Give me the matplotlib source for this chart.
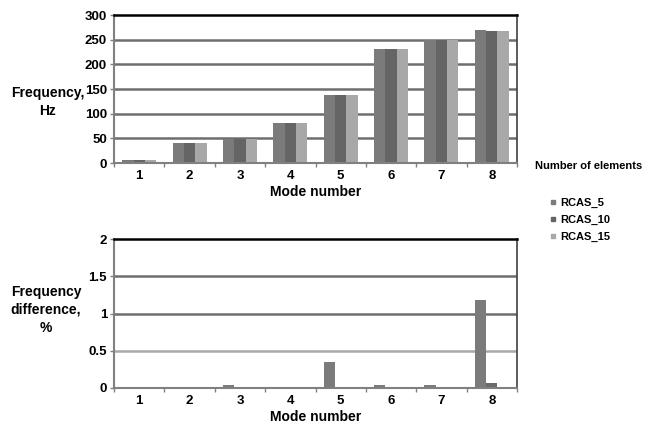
import numpy as np
import matplotlib.pyplot as plt
from matplotlib.lines import Line2D

plt.rcParams['font.family'] = ['Liberation Sans', 'DejaVu Sans']
plt.rcParams['font.weight'] = 'bold'

modes = ['1', '2', '3', '4', '5', '6', '7', '8']
series = ['RCAS_5', 'RCAS_10', 'RCAS_15']
colors = ['#7b7b7b', '#656565', '#a8a8a8']

# natural frequencies, Hz
freq_5 = [6.7, 40.5, 48.6, 82, 137.6, 232, 249.6, 270.5]
freq_10 = [6.7, 40.5, 48.6, 82, 137.6, 232, 249.6, 267.3]
freq_15 = [6.7, 40.5, 48.6, 82, 137.6, 232, 249.6, 267.3]

# difference relative to the finest model, %
diff_5 = [0, 0, 0.045, 0, 0.35, 0.045, 0.045, 1.18]
diff_10 = [0, 0, 0, 0, 0, 0, 0, 0.07]
diff_15 = [0, 0, 0, 0, 0, 0, 0, 0]

x = np.arange(len(modes))
w = 0.225

fig = plt.figure(figsize=(6.48, 4.25), dpi=100)
ax1 = fig.add_axes([114/648, 1 - 163/425, 403/648, 148/425])
ax2 = fig.add_axes([114/648, 1 - 388/425, 403/648, 149/425])


def style(ax, ymax, step, grid_colors):
    ax.set_xlim(-0.5, len(modes) - 0.5)
    ax.set_ylim(0, ymax)
    ticks = np.arange(0, ymax + step / 2, step)
    ax.set_yticks(ticks)
    ax.set_yticklabels([f'{t:g}' for t in ticks], fontsize=9.5, fontweight='bold')
    for t, c in zip(ticks[1:-1], grid_colors):
        ax.axhline(t, color=c, lw=1.8, zorder=0)
    ax.set_xticks(x)
    ax.set_xticklabels(modes, fontsize=9.5, fontweight='bold')
    ax.tick_params(axis='x', length=0, pad=5)
    ax.tick_params(axis='y', length=3, width=1, color='#808080', pad=2)
    # small separators between mode groups
    ax.set_xticks(np.arange(-0.5, len(modes)), minor=True)
    ax.tick_params(axis='x', which='minor', length=3, width=1, color='#808080')
    ax.spines['top'].set_color('black')
    ax.spines['top'].set_linewidth(1.8)
    ax.spines['right'].set_color('#404040')
    ax.spines['right'].set_linewidth(1.2)
    ax.spines['left'].set_color('#808080')
    ax.spines['left'].set_linewidth(1.5)
    ax.spines['bottom'].set_color('#808080')
    ax.spines['bottom'].set_linewidth(1.5)
    ax.set_xlabel('Mode number', fontsize=10, fontweight='bold', labelpad=2)


for i, (vals, c) in enumerate(zip([freq_5, freq_10, freq_15], colors)):
    ax1.bar(x + (i - 1) * w, vals, width=w, color=c, zorder=2)
style(ax1, 300, 50, ['#6e6e6e'] * 5)

for i, (vals, c) in enumerate(zip([diff_5, diff_10, diff_15], ['#7b7b7b', '#6a6a6a', '#a8a8a8'])):
    ax2.bar(x + (i - 1) * w, vals, width=w, color=c, zorder=2)
style(ax2, 2, 0.5, ['#a8a8a8', '#6e6e6e', '#6e6e6e'])

fig.text(48/648, 1 - 102/425, 'Frequency,\nHz', ha='center', va='center',
         fontsize=10, fontweight='bold', linespacing=1.35)
fig.text(46/648, 1 - 310/425, 'Frequency\ndifference,\n%', ha='center', va='center',
         fontsize=10, fontweight='bold', linespacing=1.35)

handles = [Line2D([], [], marker='s', ls='none', ms=3.5, color=c) for c in colors]
fig.text(535/648, 1 - 166/425, 'Number of elements', ha='left', va='center',
         fontsize=8, fontweight='bold')
fig.legend(handles, series, loc='upper left', bbox_to_anchor=(544/648, 1 - 192/425),
           frameon=False, handlelength=0.6, handletextpad=0.4,
           labelspacing=0.62, borderpad=0, prop={'weight': 'bold', 'size': 8})

fig.savefig('out.png', dpi=100)
